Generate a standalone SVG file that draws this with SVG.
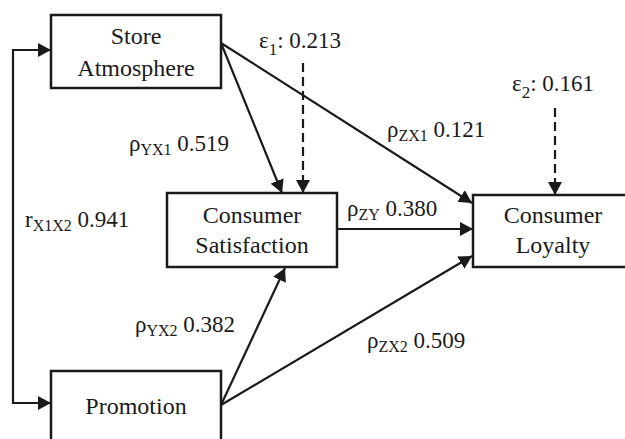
<svg xmlns="http://www.w3.org/2000/svg" width="625" height="439" viewBox="0 0 625 439">
<defs>
  <marker id="ah" markerUnits="userSpaceOnUse" markerWidth="14" markerHeight="14" refX="13" refY="7" orient="auto">
    <path d="M0,0 L13,7 L0,14 z" fill="#1a1a1a"/>
  </marker>
</defs>
<rect width="625" height="439" fill="#fff"/>

<g id="connectors" fill="none" stroke="#1a1a1a" stroke-width="2.2" marker-end="url(#ah)">
  <path d="M13,50 L51,50"/>
  <path d="M13,49 L13,403 L51,403"/>
  <path d="M221,43 L282,193"/>
  <path d="M221,43 L472,203"/>
  <path d="M303,63 L303,193" stroke-dasharray="9 5"/>
  <path d="M555,108 L555,195" stroke-dasharray="9 5"/>
  <path d="M337,229 L473,229"/>
  <path d="M221,405 L285,268"/>
  <path d="M221,405 L472,256"/>
</g>

<g id="store">
  <rect x="51" y="15" width="170" height="73" fill="#fff" stroke="#1a1a1a" stroke-width="2.5"/>
  <text x="136" y="44" font-family="Liberation Serif, Times New Roman, serif" font-size="24" text-anchor="middle" fill="#1a1a1a">Store</text>
  <text x="136" y="76" font-family="Liberation Serif, Times New Roman, serif" font-size="24" text-anchor="middle" fill="#1a1a1a">Atmosphere</text>
</g>
<g id="satisfaction">
  <rect x="167" y="193" width="170" height="74" fill="#fff" stroke="#1a1a1a" stroke-width="2.5"/>
  <text x="252" y="223" font-family="Liberation Serif, Times New Roman, serif" font-size="24" text-anchor="middle" fill="#1a1a1a">Consumer</text>
  <text x="252" y="253" font-family="Liberation Serif, Times New Roman, serif" font-size="24" text-anchor="middle" fill="#1a1a1a">Satisfaction</text>
</g>
<g id="loyalty">
  <rect x="473" y="195" width="161" height="72" fill="#fff" stroke="#1a1a1a" stroke-width="2.5"/>
  <text x="553" y="223" font-family="Liberation Serif, Times New Roman, serif" font-size="24" text-anchor="middle" fill="#1a1a1a">Consumer</text>
  <text x="553" y="253" font-family="Liberation Serif, Times New Roman, serif" font-size="24" text-anchor="middle" fill="#1a1a1a">Loyalty</text>
</g>
<g id="promotion">
  <rect x="51" y="371" width="170" height="73" fill="#fff" stroke="#1a1a1a" stroke-width="2.5"/>
  <text x="136" y="414" font-family="Liberation Serif, Times New Roman, serif" font-size="24" text-anchor="middle" fill="#1a1a1a">Promotion</text>
</g>

<g id="labels">
  <text x="259" y="48" font-family="Liberation Serif, Times New Roman, serif" font-size="23" fill="#1a1a1a">ε<tspan font-size="17" dy="7">1</tspan><tspan dy="-7">: 0.213</tspan></text>
  <text x="512" y="91" font-family="Liberation Serif, Times New Roman, serif" font-size="23" fill="#1a1a1a">ε<tspan font-size="17" dy="7">2</tspan><tspan dy="-7">: 0.161</tspan></text>
  <text x="129" y="151" font-family="Liberation Serif, Times New Roman, serif" font-size="23" fill="#1a1a1a">ρ<tspan font-size="16" dy="4">YX1</tspan><tspan dy="-4"> 0.519</tspan></text>
  <text x="387" y="137" font-family="Liberation Serif, Times New Roman, serif" font-size="23" fill="#1a1a1a">ρ<tspan font-size="16" dy="4">ZX1</tspan><tspan dy="-4"> 0.121</tspan></text>
  <text x="25" y="227" font-family="Liberation Serif, Times New Roman, serif" font-size="23" fill="#1a1a1a">r<tspan font-size="16" dy="4">X1X2</tspan><tspan dy="-4"> 0.941</tspan></text>
  <text x="347" y="216" font-family="Liberation Serif, Times New Roman, serif" font-size="23" fill="#1a1a1a">ρ<tspan font-size="16" dy="4">ZY</tspan><tspan dy="-4"> 0.380</tspan></text>
  <text x="135" y="332" font-family="Liberation Serif, Times New Roman, serif" font-size="23" fill="#1a1a1a">ρ<tspan font-size="16" dy="4">YX2</tspan><tspan dy="-4"> 0.382</tspan></text>
  <text x="367" y="348" font-family="Liberation Serif, Times New Roman, serif" font-size="23" fill="#1a1a1a">ρ<tspan font-size="16" dy="4">ZX2</tspan><tspan dy="-4"> 0.509</tspan></text>
</g>
</svg>
